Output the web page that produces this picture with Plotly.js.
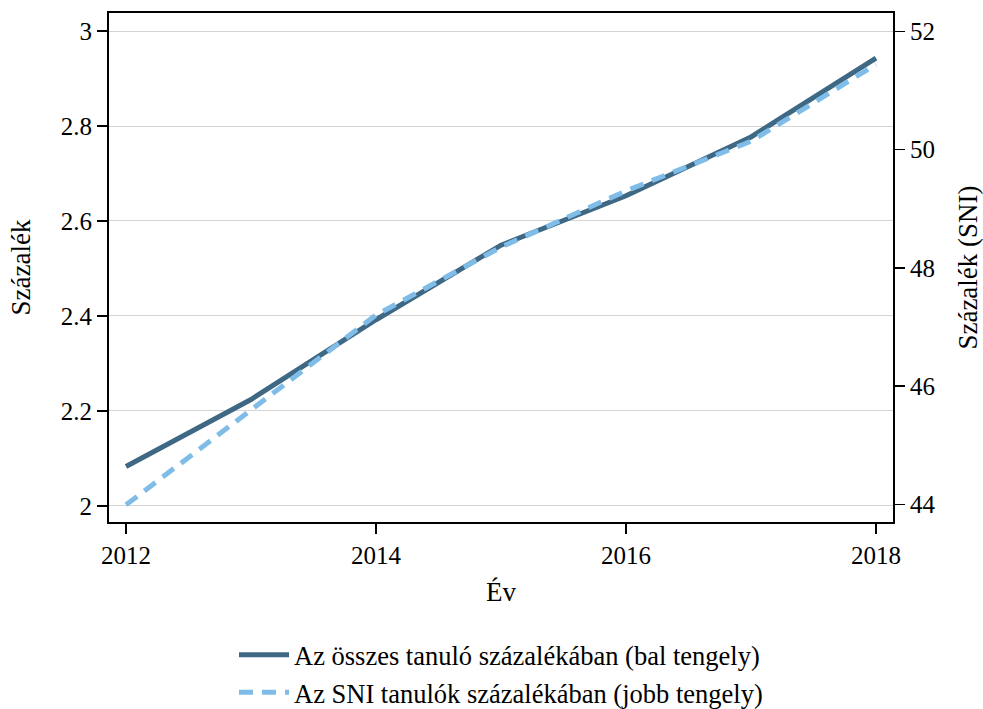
<!DOCTYPE html>
<html><head><meta charset="utf-8">
<script src="https://cdn.plot.ly/plotly-3.0.1.min.js"></script>
<style>body{margin:0;background:#fff}#chart{width:983px;height:709px}</style>
</head><body><div id="chart"></div>
<script>
const years = [2012, 2013, 2014, 2015, 2016, 2017, 2018];
const allPupilsPct = [2.083, 2.224, 2.392, 2.549, 2.653, 2.777, 2.943];
const sniPct = [43.99, 45.60, 47.20, 48.35, 49.30, 50.14, 51.44];
const nameAll = 'Az összes tanuló százalékában (bal tengely)';
const nameSni = 'Az SNI tanulók százalékában (jobb tengely)';

const fam = 'Times New Roman, Liberation Serif, Tinos, serif';
const f = s => ({family: fam, size: s, color: '#000'});
const traces = [
  {x: years, y: allPupilsPct, name: nameAll, type: 'scatter', mode: 'lines',
   legendgroup: 'a', line: {color: '#3e6883', width: 5}, yaxis: 'y'},
  {x: years, y: sniPct, name: nameSni, type: 'scatter', mode: 'lines',
   legendgroup: 'b', line: {color: '#7fbde8', width: 5, dash: '14px,9px'}, yaxis: 'y2'}
];
const layout = {
  width: 983, height: 709,
  margin: {l: 109, r: 90, t: 13, b: 187},
  paper_bgcolor: '#fff', plot_bgcolor: '#fff',
  font: f(25),
  showlegend: true,
  legend: {orientation: 'v', x: 0.5, xanchor: 'center', yref: 'container', y: 0.05, yanchor: 'middle',
           font: f(26.5), tracegroupgap: 4, traceorder: 'normal', itemwidth: 50},
  xaxis: {range: [2011.864, 2018.136], tickvals: [2012, 2014, 2016, 2018],
          ticktext: ['2012', '2014', '2016', '2018'],
          ticks: 'outside', ticklen: 10, tickwidth: 1.5, tickcolor: '#000',
          showline: true, linecolor: '#000', linewidth: 2, mirror: true,
          showgrid: false, zeroline: false, automargin: false,
          tickfont: f(25),
          title: {text: 'Év', font: f(27), standoff: 14}},
  yaxis: {range: [1.966, 3.038], tickvals: [2, 2.2, 2.4, 2.6, 2.8, 3],
          ticktext: ['2', '2.2', '2.4', '2.6', '2.8', '3'],
          ticks: 'outside', ticklen: 10, tickwidth: 1.5, tickcolor: '#000',
          showline: true, linecolor: '#000', linewidth: 2, mirror: true,
          showgrid: true, gridcolor: '#d4d4d4', gridwidth: 1, zeroline: false, automargin: false,
          tickfont: f(25),
          title: {text: 'Százalék', font: f(27), standoff: 22}},
  yaxis2: {overlaying: 'y', side: 'right', range: [43.70, 52.31],
           tickvals: [44, 46, 48, 50, 52], ticktext: ['44', '46', '48', '50', '52'],
           ticks: 'outside', ticklen: 10, tickwidth: 1.5, tickcolor: '#000',
           showline: true, linecolor: '#000', linewidth: 2, automargin: false,
           showgrid: false, zeroline: false,
           tickfont: f(25),
           title: {text: 'Százalék (SNI)', font: f(27), standoff: 26}}
};
Plotly.newPlot('chart', traces, layout, {displayModeBar: false, staticPlot: true});
</script></body></html>
